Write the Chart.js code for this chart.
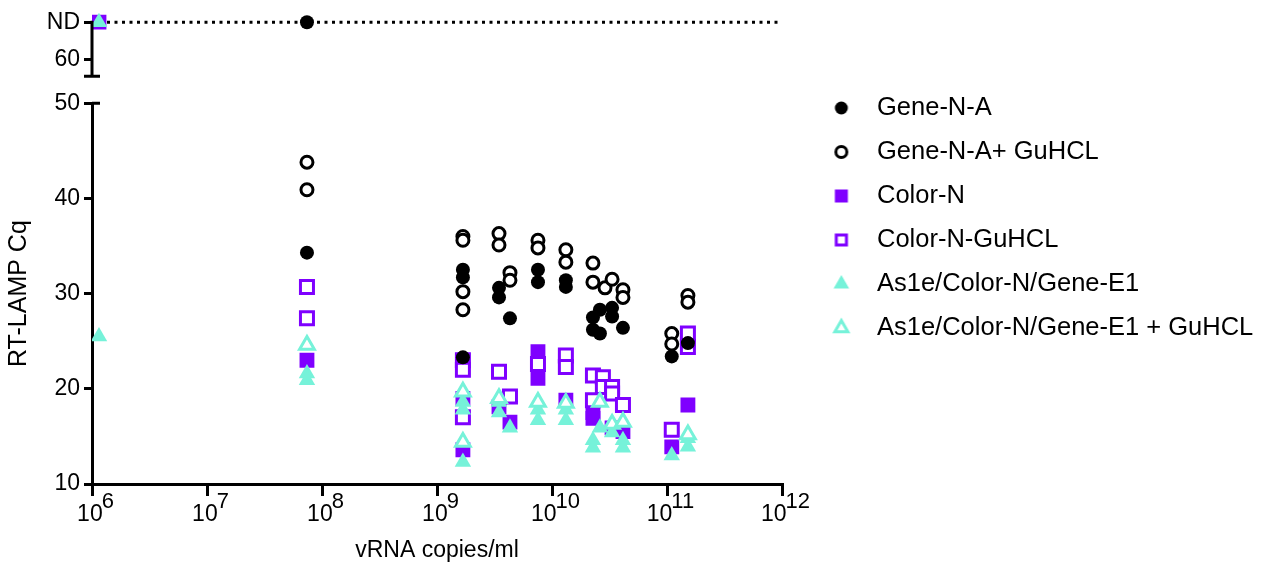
<!DOCTYPE html>
<html>
<head>
<meta charset="utf-8">
<script src="https://cdn.jsdelivr.net/npm/chart.js@4.4.1/dist/chart.umd.min.js"></script>
<style>
  html, body { margin: 0; padding: 0; background: #fff; }
  #wrap { width: 1261px; height: 572px; }
</style>
</head>
<body>
<div id="wrap"><canvas id="cq"></canvas></div>
<script>
// values: x = vRNA copies/ml, y = RT-LAMP Cq
var seriesNames = ["Gene-N-A", "Gene-N-A+ GuHCL", "Color-N", "Color-N-GuHCL",
  "As1e/Color-N/Gene-E1", "As1e/Color-N/Gene-E1 + GuHCL"];

var xTicks = [1e6, 1e7, 1e8, 1e9, 1e10, 1e11, 1e12];
var xExponents = ["6", "7", "8", "9", "10", "11", "12"];
var yTicks = [10, 20, 30, 40, 50];
var topTicks = [60, 64];   // 64 is the "ND" row
var ndValue = 64;
var breakCap = 58.16;

var geneNA_x = [7.4e7, 1.68e9, 1.68e9, 1.68e9, 3.46e9, 3.46e9, 4.31e9, 7.55e9, 7.55e9, 1.32e10, 1.32e10,
  2.27e10, 2.27e10, 2.61e10, 2.61e10, 3.33e10, 3.33e10, 4.14e10, 1.10e11, 1.52e11];
var geneNA_y = [34.3, 32.5, 31.7, 23.3, 30.6, 29.6, 27.4, 32.5, 31.2, 31.4, 30.7,
  27.5, 26.2, 28.3, 25.8, 28.5, 27.6, 26.4, 23.4, 24.8];

var geneNAGu_x = [7.4e7, 7.4e7, 1.68e9, 1.68e9, 1.68e9, 1.68e9, 3.46e9, 3.46e9, 4.31e9, 4.31e9, 7.55e9, 7.55e9,
  1.32e10, 1.32e10, 2.27e10, 2.27e10, 2.89e10, 3.33e10, 4.14e10, 4.14e10, 1.10e11, 1.10e11, 1.52e11, 1.52e11];
var geneNAGu_y = [43.8, 40.9, 36.0, 35.6, 30.2, 28.3, 36.3, 35.1, 32.2, 31.4, 35.6, 34.8,
  34.6, 33.3, 33.2, 31.2, 30.6, 31.5, 30.4, 29.6, 25.8, 24.7, 29.8, 29.1];

var colorN_x = [7.4e7, 1.68e9, 1.68e9, 3.46e9, 4.31e9, 7.55e9, 7.55e9, 1.32e10, 2.27e10, 2.27e10,
  3.33e10, 4.14e10, 1.10e11, 1.52e11];
var colorN_y = [23.0, 19.0, 13.6, 18.1, 16.5, 23.9, 21.1, 18.8, 17.5, 16.9,
  15.9, 15.5, 13.9, 18.3];

var colorNGu_x = [7.4e7, 7.4e7, 1.68e9, 1.68e9, 1.68e9, 3.46e9, 4.31e9, 7.55e9, 1.32e10, 1.32e10,
  2.27e10, 2.27e10, 2.77e10, 2.77e10, 3.33e10, 3.33e10, 4.14e10, 1.10e11, 1.52e11, 1.52e11];
var colorNGu_y = [30.7, 27.4, 23.0, 22.0, 17.0, 21.8, 19.2, 22.6, 23.5, 22.3,
  21.4, 18.8, 21.2, 20.2, 20.2, 19.5, 18.3, 15.7, 25.8, 24.4];

var as1e_x = [1.15e6, 7.4e7, 7.4e7, 1.68e9, 1.68e9, 1.68e9, 3.46e9, 3.46e9, 4.31e9, 7.55e9, 7.55e9,
  1.32e10, 1.32e10, 2.27e10, 2.27e10, 2.61e10, 3.33e10, 4.14e10, 4.14e10, 1.10e11, 1.52e11, 1.52e11];
var as1e_y = [25.5, 21.6, 20.9, 18.6, 17.8, 12.3, 18.6, 17.5, 15.9, 17.8, 16.7,
  17.8, 16.7, 14.6, 13.8, 15.9, 15.4, 14.6, 13.8, 13.0, 14.8, 13.9];

var as1eGu_x = [7.4e7, 1.68e9, 1.68e9, 3.46e9, 7.55e9, 1.32e10, 2.61e10, 3.33e10, 4.14e10, 1.52e11];
var as1eGu_y = [24.6, 19.7, 14.4, 19.0, 18.6, 18.5, 18.6, 16.3, 16.5, 15.2];

// samples reported as not detected
var ndGeneNA_x = [7.4e7];
var ndColorN_x = [1.15e6];
var ndAs1e_x = [1.15e6];

var purple = "#7f00ff";
var aqua = "#76f2d9";

Chart.defaults.font.family = '"Liberation Sans", Arial, sans-serif';
Chart.defaults.color = "#000";

function pts(xs, ys) {
  return xs.map(function (x, i) { return { x: x, y: ys[i] }; });
}

function series(label, data, axis, shape, radius, color, filled, order) {
  return {
    label: label,
    data: data,
    yAxisID: axis,
    order: order,
    pointStyle: shape,
    pointRadius: radius,
    pointHoverRadius: radius,
    pointBackgroundColor: filled ? color : "#fff",
    pointBorderColor: color,
    pointBorderWidth: filled ? 0 : 3,
    backgroundColor: filled ? color : "#fff",
    borderColor: color
  };
}

// legend icons, offset right inside the image so they sit where the figure has them
function icon(shape, radius, color, filled) {
  var c = document.createElement("canvas");
  c.width = 44; c.height = 30;
  var g = c.getContext("2d");
  g.fillStyle = filled ? color : "#fff";
  g.strokeStyle = color;
  g.lineWidth = 3;
  Chart.helpers.drawPoint(g, { pointStyle: shape, radius: radius, borderWidth: filled ? 0 : 3, rotation: 0 }, 31, 15);
  return c;
}
var legendIcons = [
  icon("circle", 6.5, "#000", true),
  icon("circle", 5.5, "#000", false),
  icon("rect", 9.2, purple, true),
  icon("rect", 7.2, purple, false),
  icon("triangle", 9, aqua, true),
  icon("triangle", 7.5, aqua, false)
];

var datasets = [
  series(seriesNames[0], pts(geneNA_x, geneNA_y), "y", "circle", 7, "#000", true, 1),
  series(seriesNames[1], pts(geneNAGu_x, geneNAGu_y), "y", "circle", 6, "#000", false, 2),
  series(seriesNames[2], pts(colorN_x, colorN_y), "y", "rect", 10.5, purple, true, 6),
  series(seriesNames[3], pts(colorNGu_x, colorNGu_y), "y", "rect", 9.2, purple, false, 5),
  series(seriesNames[4], pts(as1e_x, as1e_y), "y", "triangle", 9.5, aqua, true, 4),
  series(seriesNames[5], pts(as1eGu_x, as1eGu_y), "y", "triangle", 8.5, aqua, false, 3),
  series("Gene-N-A ND", pts(ndGeneNA_x, ndGeneNA_x.map(function () { return ndValue; })), "yTop", "circle", 7, "#000", true, 1),
  series("Color-N ND", pts(ndColorN_x, ndColorN_x.map(function () { return ndValue; })), "yTop", "rect", 10.5, purple, true, 6),
  series("As1e ND", pts(ndAs1e_x, ndAs1e_x.map(function () { return ndValue; })), "yTop", "triangle", 9.5, aqua, true, 4),
  {
    label: "ND line",
    data: [{ x: xTicks[0], y: ndValue }, { x: xTicks[xTicks.length - 1], y: ndValue }],
    yAxisID: "yTop",
    showLine: true,
    borderColor: "#000",
    borderWidth: 3,
    borderDash: [3, 4.5],
    pointRadius: 0,
    order: 10
  }
];

var axisBreak = {
  id: "axisBreak",
  afterDraw: function (chart) {
    var ctx = chart.ctx;
    var sx = chart.scales.x, sy = chart.scales.y, st = chart.scales.yTop;
    var ax = chart.chartArea.left;
    var capY = st.getPixelForValue(breakCap);
    var ndY = st.getPixelForValue(ndValue);
    var y50 = sy.getPixelForValue(yTicks[yTicks.length - 1]);
    ctx.save();
    ctx.strokeStyle = "#000";
    ctx.lineWidth = 3;
    ctx.beginPath();
    ctx.moveTo(ax, capY); ctx.lineTo(ax, ndY - 1.5);
    ctx.moveTo(ax - 8, capY); ctx.lineTo(ax + 8, capY);
    ctx.moveTo(ax, y50); ctx.lineTo(ax + 8, y50);
    ctx.stroke();
    // x tick labels: 10 with a raised exponent, centred on the tick
    var base = chart.chartArea.bottom;
    var baseFont = '23px "Liberation Sans", Arial, sans-serif';
    var expFont = '22px "Liberation Sans", Arial, sans-serif';
    ctx.fillStyle = "#000";
    ctx.textBaseline = "alphabetic";
    ctx.textAlign = "left";
    xTicks.forEach(function (v, i) {
      var px = sx.getPixelForValue(v);
      ctx.font = baseFont;
      var w10 = ctx.measureText("10").width;
      ctx.font = expFont;
      var wExp = ctx.measureText(xExponents[i]).width;
      var x0 = px + 4 - (w10 + wExp) / 2;
      ctx.font = baseFont;
      ctx.fillText("10", x0, base + 37);
      ctx.font = expFont;
      ctx.fillText(xExponents[i], x0 + w10 - 1, base + 24);
    });
    ctx.restore();
  }
};

function fitY(s) {
  s.width = 92;
  s.paddingTop = 0;
  s.paddingBottom = 0;
}

new Chart(document.getElementById("cq"), {
  type: "scatter",
  data: { datasets: datasets },
  options: {
    responsive: true,
    maintainAspectRatio: false,
    animation: false,
    layout: { padding: { top: 12, bottom: 4, left: 0, right: 0 } },
    scales: {
      x: {
        type: "logarithmic",
        position: "bottom",
        min: xTicks[0],
        max: xTicks[xTicks.length - 1],
        afterBuildTicks: function (s) { s.ticks = xTicks.map(function (v) { return { value: v }; }); },
        afterFit: function (s) { s.height = 84; s.paddingLeft = 0; s.paddingRight = 0; },
        grid: { drawOnChartArea: false, drawTicks: true, tickLength: 12, lineWidth: 3, color: "#000" },
        border: { display: true, width: 3, color: "#000" },
        ticks: { display: false },
        title: { display: true, text: "vRNA copies/ml", font: { size: 23 }, color: "#000", padding: { top: 4, bottom: 4 } }
      },
      y: {
        type: "linear",
        position: "left",
        stack: "cq",
        stackWeight: 381,
        min: yTicks[0],
        max: yTicks[yTicks.length - 1],
        afterBuildTicks: function (s) { s.ticks = yTicks.map(function (v) { return { value: v }; }); },
        afterFit: fitY,
        grid: { drawOnChartArea: false, drawTicks: true, tickLength: 8, lineWidth: 3, color: "#000" },
        border: { display: true, width: 3, color: "#000" },
        ticks: { font: { size: 23 }, color: "#000", padding: 4 },
        title: { display: true, text: "RT-LAMP Cq", font: { size: 25 }, color: "#000", padding: { top: 4, bottom: 4 } }
      },
      yTop: {
        type: "linear",
        position: "left",
        stack: "cq",
        stackWeight: 91,
        min: 55.24,
        max: 65.08,
        afterBuildTicks: function (s) { s.ticks = topTicks.map(function (v) { return { value: v }; }); },
        afterFit: fitY,
        grid: { drawOnChartArea: false, drawTicks: true, tickLength: 8, lineWidth: 3, color: "#000" },
        border: { display: false },
        ticks: {
          font: { size: 23 }, color: "#000", padding: 4,
          callback: function (v) { return v === ndValue ? "ND" : v; }
        }
      }
    },
    plugins: {
      tooltip: { enabled: false },
      legend: {
        position: "right",
        align: "start",
        maxWidth: 479,
        title: { display: true, text: "", padding: { top: 50.35, bottom: 0 } },
        labels: {
          usePointStyle: true,
          pointStyleWidth: 63.75,
          padding: 18.5,
          color: "#000",
          font: { size: 25.5 },
          filter: function (item) { return item.datasetIndex < seriesNames.length; },
          sort: function (a, b) { return a.datasetIndex - b.datasetIndex; },
          generateLabels: function (chart) {
            var items = Chart.defaults.plugins.legend.labels.generateLabels(chart);
            items.forEach(function (it) {
              if (it.datasetIndex < legendIcons.length) it.pointStyle = legendIcons[it.datasetIndex];
            });
            return items;
          }
        }
      }
    }
  },
  plugins: [axisBreak]
});
</script>
</body>
</html>
